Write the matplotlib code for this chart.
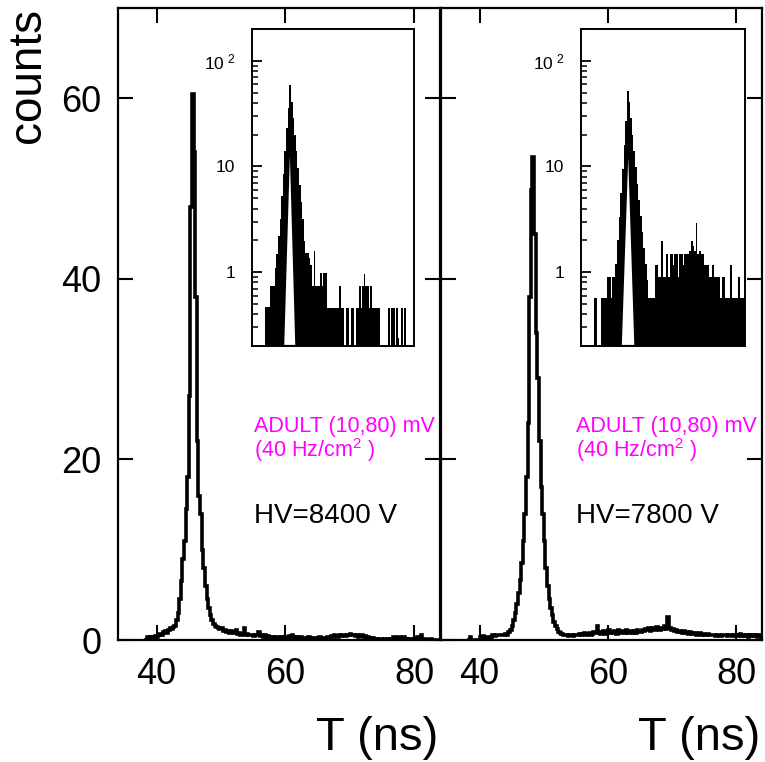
import numpy as np
import matplotlib; matplotlib.use("Agg")
import matplotlib.pyplot as plt
from matplotlib.ticker import LogLocator, NullFormatter

plt.rcParams["font.family"] = ["Liberation Sans", "DejaVu Sans"]
plt.rcParams["mathtext.fontset"] = "custom"
plt.rcParams["mathtext.rm"] = "Liberation Sans"

# main histograms: 0.25 ns bins from 38 to 84 ns
T0, T1, DT = 38.0, 84.0, 0.25
counts_8400 = [
    0, 0, 0.3, 0.2,  0.3, 0.2, 0.3, 0.4,  0.3, 0.6, 0.7, 0.6,  0.9, 1.0, 0.8, 1.1,      # 38-42
    1.3, 1.2, 1.4, 1.6,  2.2, 3.0, 4.5, 6.5,  9, 11, 14.5, 18,  27, 48, 60.5, 54,       # 42-46
    38, 22, 16, 14,  10, 8, 6, 4.5,  3.5, 2.8, 2.2, 1.8,  1.5, 1.4, 1.3, 1.2,           # 46-50
    1.3, 1.0, 1.1, 0.9,  1.0, 0.8, 1.0, 0.9,  0.8, 1.1, 0.7, 0.8,  0.6, 0.7, 1.3, 0.6,  # 50-54
    0.7, 0.5, 0.6, 0.5,  0.4, 0.6, 0.5, 0.9,  0.4, 0.5, 0.3, 0.5,  0.3, 0.4, 0.3, 0.2,  # 54-58
    0.3, 0.2, 0.3, 0.3,  0.2, 0.3, 0.2, 0.3,  0.3, 0.2, 0.4, 0.2,  0.5, 0.3, 0.2, 0.3,  # 58-62
    0.2, 0.3, 0.1, 0.2,  0.2, 0.1, 0.3, 0.2,  0.1, 0.2, 0.2, 0.1,  0.2, 0.3, 0.1, 0.2,  # 62-66
    0.2, 0.1, 0.3, 0.2,  0.4, 0.3, 0.5, 0.4,  0.3, 0.5, 0.4, 0.5,  0.5, 0.4, 0.6, 0.5,  # 66-70
    0.7, 0.5, 0.6, 0.4,  0.5, 0.3, 0.4, 0.5,  0.3, 0.4, 0.2, 0.3,  0.2, 0.1, 0.2, 0.1,  # 70-74
    0.1, 0, 0.1, 0.1,  0, 0.1, 0, 0.1,  0, 0.1, 0, 0.3,  0.1, 0, 0.3, 0,               # 74-78
    0.1, 0.3, 0, 0.1,  0, 0.1, 0, 0,  0.1, 0, 0.3, 0,  0.5, 0, 0.1, 0,                 # 78-82
    0, 0, 0.1, 0,  0, 0, 0, 0,                                                          # 82-84
]
counts_7800 = [
    0, 0, 0.3, 0,  0, 0, 0, 0,  0.3, 0.2, 0.4, 0.2,  0.3, 0.3, 0.2, 0.3,               # 38-42
    0.5, 0.4, 0.6, 0.5,  0.5, 0.6, 0.5, 0.6,  0.7, 0.6, 0.9, 1.1,  1.5, 2.2, 3.0, 4.0,  # 42-46
    5.2, 6.7, 8.5, 11,  14, 18, 24, 38,  49.8, 53.5, 45, 34,  29, 22, 17, 14,           # 46-50
    11, 8, 6, 4.5,  3.5, 2.8, 2.0, 1.6,  1.2, 0.9, 0.8, 0.7,  0.5, 0.6, 0.5, 0.4,       # 50-54
    0.5, 0.6, 0.4, 0.5,  0.6, 0.5, 0.7, 0.6,  0.7, 0.8, 0.6, 0.7,  0.8, 0.6, 0.7, 0.9,  # 54-58
    0.8, 1.6, 0.9, 0.7,  0.8, 1.0, 0.7, 0.9,  1.1, 0.8, 0.9, 0.8,  1.0, 0.7, 1.1, 0.8,  # 58-62
    0.9, 1.0, 0.8, 1.1,  0.8, 0.9, 1.0, 0.8,  1.0, 0.8, 1.1, 0.9,  0.9, 1.1, 1.0, 1.2,  # 62-66
    1.1, 1.3, 1.0, 1.2,  1.3, 1.1, 1.4, 1.2,  1.1, 1.3, 1.2, 1.5,  1.2, 2.6, 1.3, 1.1,  # 66-70
    1.2, 1.0, 1.1, 0.9,  1.0, 0.9, 0.8, 1.0,  0.8, 0.9, 0.7, 0.9,  0.8, 0.7, 0.8, 0.6,  # 70-74
    0.7, 0.8, 0.6, 0.7,  0.6, 0.5, 0.7, 0.5,  0.6, 0.5, 0.6, 0.4,  0.5, 0.6, 0.4, 0.5,  # 74-78
    0.6, 0.5, 0.4, 0.6,  0.5, 0.4, 0.5, 0.6,  0.4, 0.5, 0.7, 0.4,  0.5, 0.4, 0.5, 0.3,  # 78-82
    0.6, 0.4, 0.5, 0.4,  0.5, 0.3, 0.6, 0.4,                                            # 82-84
]

# log insets: 0.5 ns bins from 38 to 84 ns
IDT = 0.5
inset_8400 = [
    0.47, 0.47, 0.47, 0.74, 0.74, 0.74, 1.1, 1.5, 2.2, 3.2,
    5.3, 8.5, 14, 23, 36, 59, 41, 28.5, 20, 14,
    9.6, 6.7, 4.6, 3.2, 1.97, 1.52, 1.52, 1.37, 1.18, 0.74,
    1.58, 0.74, 0.74, 0.74, 0.99, 0.74, 0.99, 0.99, 0.46, 0.46,
    0.46, 0.46, 0.46, 0.46, 0.46, 0.46, 0.74, 0.46, 0.46, 0,
    0.46, 0.46, 0, 0.46, 0.46, 0, 0.46, 0.46, 0.74, 0.46,
    0.74, 0.96, 0.74, 0.74, 0.46, 0.74, 0.46, 0.46, 0.46, 0.46,
    0.46, 0, 0, 0, 0, 0, 0.46, 0, 0.46, 0.46,
    0, 0.46, 0.24, 0, 0.46, 0, 0.46, 0, 0, 0,
    0, 0,
]
inset_7800 = [
    0.57, 0.57, 0, 0, 0.57, 0.57, 0.57, 0.57, 0.9, 0.9,
    0.57, 0.9, 0.9, 1.2, 2.0, 3.3, 5.6, 9.4, 16, 27,
    52, 41, 29, 20, 14, 9.8, 6.9, 4.8, 3.4, 2.4,
    1.7, 1.2, 0.85, 0.57, 0.57, 0.57, 0.57, 1.18, 1.18, 0.9,
    0.9, 1.97, 0.9, 0.9, 1.47, 0.9, 1.47, 1.47, 1.18, 1.47,
    1.47, 0.9, 1.47, 1.47, 1.18, 1.47, 1.47, 1.47, 1.6, 1.97,
    1.76, 1.6, 2.93, 1.47, 1.6, 1.47, 1.47, 1.18, 1.18, 1.18,
    0.9, 0.9, 1.18, 0.9, 0.9, 0.9, 0.9, 0.57, 0.9, 0.9,
    0.57, 0.57, 0.57, 1.18, 0.57, 0.57, 0.57, 0.57, 0.9, 0.57,
    0.57, 0.57,
]
# white core under the peak of each inset (T in ns, counts)
hole_8400_t = [43.6, 45.7, 47.7]; hole_8400_y = [0.2, 29, 0.2]
hole_7800_t = [46.1, 48.4, 50.6]; hole_7800_y = [0.2, 25, 0.2]

hv_labels = ["HV=8400 V", "HV=7800 V"]
cond_line1 = "ADULT (10,80) mV"
cond_line2 = "(40 Hz/cm$^2$ )"

W, H = 765, 762
fig = plt.figure(figsize=(W/100, H/100), dpi=100)
def frac(x0, y0, x1, y1):  # pixel box (top-left origin) -> figure fraction
    return [x0/W, 1-y1/H, (x1-x0)/W, (y1-y0)/H]

main_boxes = [frac(118, 8, 440, 640), frac(441, 8, 762, 640)]
inset_boxes = [frac(252, 29, 414, 346), frac(581, 29, 745, 346)]
mains = [counts_8400, counts_7800]
insets = [inset_8400, inset_7800]
holes = [(hole_8400_t, hole_8400_y), (hole_7800_t, hole_7800_y)]

edges = np.arange(T0, T1 + DT/2, DT)
iedges = np.arange(T0, T1 + IDT/2, IDT)

for k in range(2):
    ax = fig.add_axes(main_boxes[k])
    ax.stairs(mains[k], edges, color="k", lw=2.6, baseline=0)
    ax.set_xlim(34, 84); ax.set_ylim(0, 70)
    ax.set_xticks([40, 60, 80]); ax.set_yticks([0, 20, 40, 60])
    ax.tick_params(direction="in", length=11, width=1.5, top=True, right=True,
                   labelsize=26, pad=12, labelleft=(k == 0))
    for s in ax.spines.values(): s.set_linewidth(1.6)
    ax.text(55.1, 23, cond_line1, color="#ff00ff", fontsize=15.5, va="baseline")
    ax.text(55.1, 20.3, cond_line2, color="#ff00ff", fontsize=15.5, va="baseline")
    ax.text(55.1, 13, hv_labels[k], color="k", fontsize=20, va="baseline")

    ai = fig.add_axes(inset_boxes[k])
    vals = np.where(np.array(insets[k]) > 0, insets[k], 1e-3)
    ai.stairs(vals, iedges, fill=True, color="k", baseline=1e-3, lw=0)
    ai.fill(holes[k][0], holes[k][1], facecolor="white", edgecolor="k", lw=1.6, zorder=3)
    ai.set_yscale("log")
    ai.set_xlim(34, 84); ai.set_ylim(0.2, 200)
    ai.set_xticks([])
    ai.set_yticks([1, 10, 100])
    ai.set_yticklabels(["1", "10", r"$\mathregular{10^{\ 2}}$"])
    ai.yaxis.set_minor_locator(LogLocator(subs=np.arange(2, 10)))
    ai.yaxis.set_minor_formatter(NullFormatter())
    ai.tick_params(which="major", direction="in", length=7, width=1.3, labelsize=12.5, pad=12)
    ai.tick_params(which="minor", direction="in", length=4, width=1.1)
    for s in ai.spines.values(): s.set_linewidth(1.4)

    fig.text([438, 760][k]/W, 1-750/H, "T (ns)", fontsize=34, ha="right", va="baseline")

fig.text(28/W, 1-8/H, "counts", fontsize=33, rotation=90, ha="center", va="top")

fig.savefig("out.png", dpi=100)
